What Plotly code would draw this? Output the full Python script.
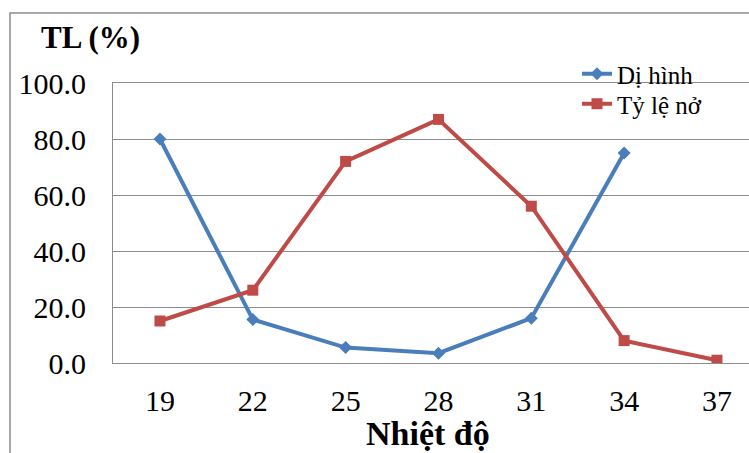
import plotly.graph_objects as go

# Temperature categories and rates (%)
temps = ["19", "22", "25", "28", "31", "34", "37"]
di_hinh = [80.0, 15.5, 5.5, 3.5, 16.0, 75.0, None]
ty_le_no = [15.0, 26.0, 72.0, 87.0, 56.0, 8.0, 1.0]
y_ticks = [0, 20, 40, 60, 80, 100]

W, H = 749, 453
L, T, B, R = 113, 83, 90, 0
pw, ph = W - L - R, H - T - B

def px_x(p):
    return (p - L) / pw

def px_y(p):
    return (H - B - p) / ph

SERIF = "Times New Roman"
BLUE = "#4A7EBB"
RED = "#BE4B48"
GRID = "#8C8C8C"

fig = go.Figure()
fig.add_trace(go.Scatter(
    x=temps, y=di_hinh, name="Dị hình", mode="lines+markers",
    line=dict(color=BLUE, width=4),
    marker=dict(symbol="diamond", size=10, color=BLUE),
    legend="legend",
))
fig.add_trace(go.Scatter(
    x=temps, y=ty_le_no, name="Tỷ lệ nở", mode="lines+markers",
    line=dict(color=RED, width=4),
    marker=dict(symbol="square", size=11, color=RED),
    legend="legend2",
))

legend_style = dict(
    xanchor="left", yanchor="top", bgcolor="rgba(0,0,0,0)",
    font=dict(family=SERIF, size=25, color="black"), itemwidth=30,
)

fig.update_layout(
    width=W, height=H,
    margin=dict(l=L, r=R, t=T, b=B),
    paper_bgcolor="white", plot_bgcolor="white",
    font=dict(family=SERIF, color="black", size=24),
    showlegend=True,
    legend=dict(x=px_x(577), y=px_y(51), **legend_style),
    legend2=dict(x=px_x(577), y=px_y(81), **legend_style),
    xaxis=dict(
        type="category", range=[-0.506, 6.345],
        showgrid=False, showline=True, mirror=True,
        linecolor=GRID, linewidth=1, zeroline=False,
        ticks="", tickfont=dict(family=SERIF, size=30, color="black"),
        ticklabelstandoff=11,
    ),
    yaxis=dict(
        range=[0, 100], tickvals=y_ticks,
        ticktext=[f"{v:.1f}" for v in y_ticks],
        showgrid=True, gridcolor=GRID, gridwidth=1,
        showline=True, linecolor=GRID, linewidth=1,
        zeroline=False, ticks="",
        tickfont=dict(family=SERIF, size=30, color="black"),
        ticklabelstandoff=20,
    ),
    shapes=[
        dict(type="rect", xref="paper", yref="paper",
             x0=px_x(10), x1=px_x(800), y0=px_y(13), y1=px_y(520),
             line=dict(color=GRID, width=1.5), fillcolor="rgba(0,0,0,0)",
             layer="below"),
    ],
    annotations=[
        dict(text="TL (%)", xref="paper", yref="paper",
             x=px_x(90), y=px_y(38), xanchor="center", yanchor="middle",
             showarrow=False,
             font=dict(family=SERIF, size=31, weight="bold", color="black")),
        dict(text="Nhiệt độ", xref="paper", yref="paper",
             x=px_x(428), y=px_y(433), xanchor="center", yanchor="middle",
             showarrow=False,
             font=dict(family=SERIF, size=34, weight="bold", color="black")),
    ],
)

fig.write_html("out.html")
